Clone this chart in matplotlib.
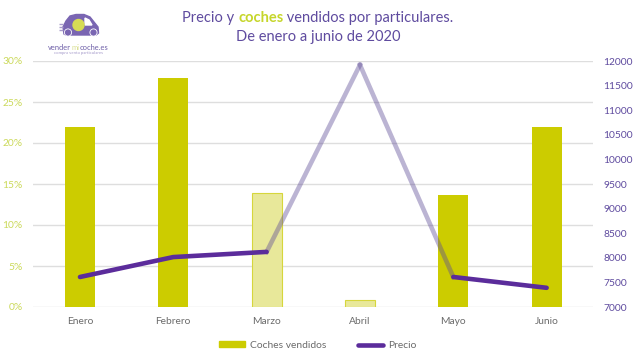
import matplotlib
matplotlib.use('Agg')
import matplotlib.pyplot as plt
from matplotlib.lines import Line2D
from matplotlib.patches import Patch, Circle, Polygon, Rectangle

plt.rcParams['font.family'] = ['Lato', 'DejaVu Sans']

aMonth = ['Enero', 'Febrero', 'Marzo', 'Abril', 'Mayo', 'Junio']
aCoches = [21.9, 27.9, 13.9, 0.85, 13.6, 22.0]
aPrecio = [7610, 8015, 8120, 11920, 7610, 7390]
aFaded = [False, False, True, True, False, False]
aYtick_left = [0, 5, 10, 15, 20, 25, 30]
aYtick_right = list(range(7000, 12001, 500))

sOlive = '#CCCC00'
sPurple = '#5B2C9B'
sFade = '#5E4C96'
sTitle = '#5F4B9F'
sTick_left = '#CBD95A'
sTick_right = '#5F4B9F'
sGrid = '#DEDEDE'
sText = '#6B6B6B'
dFont = 7.4

W, H = 640.0, 361.0
fig = plt.figure(figsize=(6.4, 3.61), dpi=100)
ax = fig.add_axes([33.3 / W, 1 - 307 / H, 560 / W, 246 / H])
ax2 = ax.twinx()

x = list(range(len(aMonth)))
for i in x:
    if aFaded[i]:
        ax.bar(i, aCoches[i], width=0.32, color='#E8E89A', edgecolor='#D6D63C', linewidth=0.8, zorder=2)
    else:
        ax.bar(i, aCoches[i], width=0.32, color=sOlive, zorder=2)

ax.set_xlim(-0.5, 5.5)
ax.set_ylim(0, 30)
ax.set_yticks(aYtick_left)
ax.set_yticklabels([str(v) + '%' for v in aYtick_left], color=sTick_left, fontsize=dFont)
ax.set_xticks(x)
ax.set_xticklabels(aMonth, color=sText, fontsize=dFont)
ax.tick_params(axis='both', length=0)
ax.tick_params(axis='x', pad=7.5)
ax.tick_params(axis='y', pad=7.5)
ax.grid(True, axis='y', color=sGrid, linewidth=1, zorder=0)
ax.set_axisbelow(True)

# marzo-abril and abril-mayo are drawn faded, the rest solid
ax2.plot(x[2:4], aPrecio[2:4], color=sFade, alpha=0.42, linewidth=3.3, zorder=3)
ax2.plot(x[3:5], aPrecio[3:5], color=sFade, alpha=0.42, linewidth=3.3, zorder=3)
ax2.plot(x[:3], aPrecio[:3], color=sPurple, linewidth=3.3, solid_capstyle='round', zorder=4)
ax2.plot(x[4:], aPrecio[4:], color=sPurple, linewidth=3.3, solid_capstyle='round', zorder=4)
ax2.set_ylim(7000, 12000)
ax2.set_yticks(aYtick_right)
ax2.set_yticklabels([str(v) for v in aYtick_right], color=sTick_right, fontsize=dFont)
ax2.tick_params(axis='y', length=0, pad=7)

for a in (ax, ax2):
    for s in a.spines.values():
        s.set_visible(False)

renderer = fig.canvas.get_renderer()


def text_pieces(aPiece, dCenter, dY, dSize, sWeight_piece=None):
    """one row of text, each piece with its own colour"""
    aWidth = []
    for sPiece, sColor in aPiece:
        t = fig.text(0, 0, sPiece.replace(' ', '\u00a0'), fontsize=dSize,
                     fontweight='bold' if sPiece == sWeight_piece else 'normal')
        aWidth.append(t.get_window_extent(renderer).width)
        t.remove()
    dX = dCenter - sum(aWidth) / 2
    for (sPiece, sColor), dWidth in zip(aPiece, aWidth):
        fig.text(dX / W, 1 - dY / H, sPiece.replace(' ', '\u00a0'), color=sColor, fontsize=dSize,
                 va='center', ha='left', fontweight='bold' if sPiece == sWeight_piece else 'normal', zorder=6)
        dX += dWidth


text_pieces([('Precio y ', sTitle), ('coches', '#C6D62B'), (' vendidos por particulares.', sTitle)],
            318, 18, 10.5, 'coches')
text_pieces([('De enero a junio de 2020', sTitle)], 318, 37, 10.5)

# logo
axl = fig.add_axes([0, 0, 1, 1], zorder=5)
axl.set_xlim(0, W)
axl.set_ylim(H, 0)
axl.axis('off')
sCar = '#7A66B2'
axl.add_patch(Polygon([(64, 34), (63, 27), (66, 21), (70, 16), (76, 14.5), (84, 14.5), (90, 17), (94, 22),
                       (98, 27), (98.5, 33), (96, 35), (66, 35)], closed=True, color=sCar, zorder=1))
axl.add_patch(Polygon([(85, 18), (89, 20), (92, 25), (85, 25)], closed=True, color='white', zorder=2))
axl.add_patch(Circle((78.5, 25), 5.5, color='#D6DC55', zorder=3))
axl.add_patch(Circle((68, 32.5), 3.6, color=sCar, ec='white', lw=0.6, zorder=3))
axl.add_patch(Circle((93.5, 32.5), 3.6, color=sCar, ec='white', lw=0.6, zorder=3))
for dY in (24, 27, 30):
    axl.add_patch(Rectangle((58.5, dY - 0.4), 4, 0.8, color='#A99CCB', zorder=1))
text_pieces([('vender', '#6E5FA8'), ('mi', '#D9DF90'), ('coche.es', '#6E5FA8')], 78, 47, 5.4)
axl.text(78, 53, 'compra venta particulares', color='#A69BCB', fontsize=3.2, ha='center', va='center')

hLegend = [Patch(color=sOlive, label='Coches vendidos'),
           Line2D([0], [0], color=sPurple, linewidth=3.3, solid_capstyle='round', label='Precio')]
fig.legend(handles=hLegend, loc='center', bbox_to_anchor=(318 / W, 1 - 345.5 / H), ncol=2, frameon=False,
           fontsize=dFont, labelcolor=sText, handlelength=2.45, handleheight=0.5, columnspacing=3.1, handletextpad=0.5)

fig.savefig('out.png', dpi=100)
